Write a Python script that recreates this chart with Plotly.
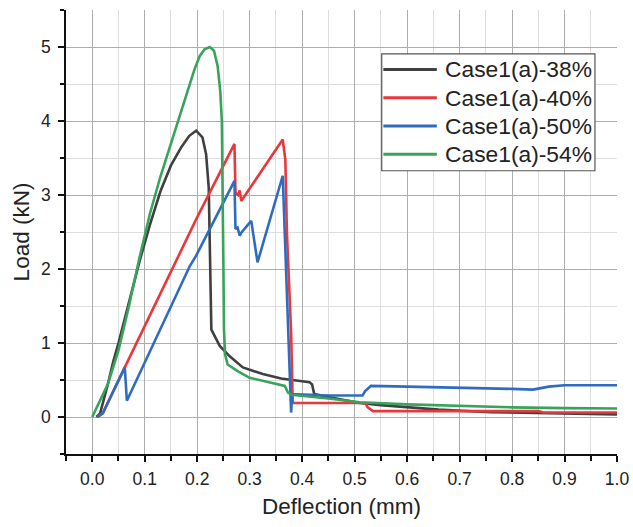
import plotly.graph_objects as go

# ---- data ----
names = ["Case1(a)-38%", "Case1(a)-40%", "Case1(a)-50%", "Case1(a)-54%"]
colors = ["#404040", "#e8383d", "#2f6cc0", "#38a35a"]

x38 = [0.008, 0.015, 0.03, 0.04, 0.05, 0.07, 0.09, 0.11, 0.13, 0.15, 0.17, 0.185, 0.198,
       0.21, 0.217, 0.222, 0.224, 0.225, 0.227, 0.243, 0.262, 0.287, 0.325, 0.36, 0.414,
       0.419, 0.423, 0.45, 0.51, 0.55, 0.6, 0.66, 0.76, 0.85, 1.0]
y38 = [0.0, 0.05, 0.45, 0.75, 1.0, 1.55, 2.1, 2.6, 3.05, 3.4, 3.65, 3.8, 3.87,
       3.78, 3.55, 3.1, 2.2, 1.5, 1.18, 0.96, 0.82, 0.67, 0.58, 0.52, 0.47,
       0.44, 0.31, 0.27, 0.19, 0.16, 0.13, 0.10, 0.065, 0.05, 0.035]

x40 = [0.01, 0.02, 0.062, 0.198, 0.271, 0.273, 0.278, 0.281, 0.284, 0.363, 0.368,
       0.371, 0.379, 0.382, 0.52, 0.525, 0.535, 0.85, 0.86, 1.0]
y40 = [0.0, 0.05, 0.67, 2.67, 3.69, 3.03, 3.0, 3.06, 2.92, 3.75, 3.48,
       2.49, 1.14, 0.19, 0.19, 0.13, 0.08, 0.08, 0.06, 0.06]

x50 = [0.01, 0.02, 0.062, 0.066, 0.186, 0.198, 0.271, 0.273, 0.277, 0.281, 0.284,
       0.303, 0.315, 0.363, 0.379, 0.381, 0.45, 0.515, 0.52, 0.531, 0.6, 0.7, 0.8,
       0.84, 0.87, 0.9, 1.0]
y50 = [0.0, 0.05, 0.67, 0.22, 2.04, 2.18, 3.19, 2.54, 2.56, 2.45, 2.49,
       2.65, 2.09, 3.26, 0.06, 0.31, 0.29, 0.29, 0.35, 0.42, 0.41, 0.40, 0.38,
       0.37, 0.41, 0.43, 0.43]

x54 = [0.0, 0.03, 0.05, 0.07, 0.09, 0.11, 0.13, 0.15, 0.17, 0.19, 0.195, 0.205, 0.214,
       0.224, 0.232, 0.239, 0.244, 0.247, 0.249, 0.25, 0.251, 0.253, 0.258, 0.277, 0.3,
       0.357, 0.367, 0.373, 0.38, 0.45, 0.51, 0.6, 0.7, 0.8, 0.9, 1.0]
y54 = [0.0, 0.45, 0.9, 1.5, 2.15, 2.75, 3.25, 3.7, 4.15, 4.6, 4.7, 4.88, 4.97,
       5.0, 4.95, 4.74, 4.4, 4.0, 3.0, 2.0, 1.2, 0.85, 0.71, 0.62, 0.53,
       0.44, 0.42, 0.33, 0.30, 0.25, 0.20, 0.17, 0.145, 0.13, 0.12, 0.115]

xs = [x38, x40, x50, x54]
ys = [y38, y40, y50, y54]

LW = 2.6
fig = go.Figure()
for n, c, xv, yv in zip(names, colors, xs, ys):
    fig.add_trace(go.Scatter(x=xv, y=yv, mode="lines", name=n, showlegend=False,
                             line=dict(color=c, width=LW)))

font = "Liberation Sans, Arial, sans-serif"
txt = "#222222"
axis_common = dict(
    showline=True, linecolor="#111111", linewidth=1.6,
    ticks="outside", ticklen=6, tickwidth=1.5, tickcolor="#111111",
    showgrid=True, gridcolor="#adadad", gridwidth=1,
    zeroline=False, mirror=False, automargin=False,
    tickfont=dict(family=font, size=17.5, color=txt),
)

fig.update_xaxes(
    range=[-0.05, 1.0], tick0=0, dtick=0.1, tickformat=".1f",
    ticklabelstandoff=2,
    title=dict(text="Deflection (mm)", font=dict(family=font, size=22.5, color=txt), standoff=10),
    minor=dict(dtick=0.05, tick0=0, showgrid=True, gridcolor="#dedede",
               ticks="outside", ticklen=5, tickcolor="#111111"),
    **axis_common,
)
fig.update_yaxes(
    range=[-0.5, 5.5], tick0=0, dtick=1,
    ticklabelstandoff=4,
    title=dict(text="Load (kN)", font=dict(family=font, size=22.5, color=txt), standoff=5),
    minor=dict(dtick=0.5, tick0=0, showgrid=True, gridcolor="#dedede",
               ticks="outside", ticklen=4, tickcolor="#111111"),
    **axis_common,
)

# ---- legend box drawn in plot-area (paper) coordinates ----
leg_x0, leg_x1, leg_y0, leg_y1 = 0.573, 0.960, 0.638, 0.901
line_x0, line_x1, text_x = 0.576, 0.673, 0.684
row_y = [0.866, 0.8025, 0.739, 0.675]

shapes = [dict(type="rect", xref="paper", yref="paper", x0=leg_x0, x1=leg_x1,
               y0=leg_y0, y1=leg_y1, line=dict(color="#555555", width=1.2),
               fillcolor="white", layer="above")]
annotations = []
for n, c, ry in zip(names, colors, row_y):
    shapes.append(dict(type="line", xref="paper", yref="paper", x0=line_x0, x1=line_x1,
                       y0=ry, y1=ry, line=dict(color=c, width=LW + 0.4), layer="above"))
    annotations.append(dict(xref="paper", yref="paper", x=text_x, y=ry, text=n,
                            showarrow=False, xanchor="left", yanchor="middle",
                            font=dict(family=font, size=22.8, color=txt)))

fig.update_layout(
    width=633, height=527,
    margin=dict(l=66, r=16, t=10, b=73),
    paper_bgcolor="white", plot_bgcolor="white",
    font=dict(family=font, color=txt),
    showlegend=False,
    shapes=shapes, annotations=annotations,
)

fig.write_html("out.html")
